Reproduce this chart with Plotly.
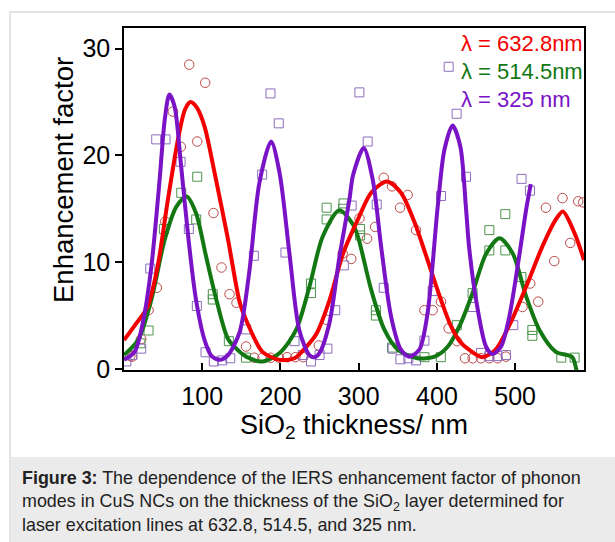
import plotly.graph_objects as go

# ---- fitted curves (SiO2 thickness in nm, enhancement factor) ----
red_fit_x = [0, 15, 30, 43, 56, 69, 78, 85, 93, 103, 116, 133, 148, 156, 177, 199, 218, 231, 246,
             263, 280, 299, 316, 336, 354, 371, 388, 405, 418, 429, 441, 458, 475, 492, 514, 535,
             552, 561, 576, 588]
red_fit_y = [2.7, 4.2, 5.8, 9.6, 15.8, 21.5, 24.3, 25.0, 24.5, 22.7, 18.3, 12.1, 6.2, 4.6, 1.6, 0.85,
             1.0, 1.9, 3.3, 6.5, 10.8, 14.0, 16.5, 17.55, 16.5, 13.8, 10.2, 6.5, 4.0, 2.6, 1.8, 1.1,
             1.8, 4.0, 7.7, 11.5, 14.0, 14.75, 12.7, 10.2]

green_fit_x = [0, 18, 35, 52, 67, 80, 92, 105, 118, 133, 148, 156, 177, 199, 220, 237, 254, 275,
               292, 299, 316, 333, 350, 375, 397, 414, 430, 445, 463, 480, 497, 514, 531, 552, 573,
               578, 581]
green_fit_y = [1.3, 2.7, 6.5, 12.1, 15.2, 16.15, 14.6, 10.5, 6.5, 2.8, 1.6, 1.15, 0.7, 1.5, 3.65, 7.7,
               12.4, 14.85, 13.6, 12.4, 7.4, 3.65, 1.8, 1.0, 1.15, 2.1, 4.2, 7.0, 10.8, 12.25, 10.8,
               6.8, 3.65, 1.6, 1.1, 0.0, -1.0]

purple_fit_x = [0, 13.5, 24, 35, 45.5, 52, 58, 64.6, 73, 82.5, 92, 103, 112, 122, 133, 148, 160,
                173, 188, 199, 211.5, 224, 237, 244, 250, 262.6, 275.4, 288, 293, 306.4, 318, 328.6,
                341.4, 354, 364.7, 377.5, 388, 401, 409.5, 420, 430, 437, 441, 450, 462.7, 471, 482,
                492.5, 505, 514, 520]
purple_fit_y = [0.85, 1.6, 4.3, 9.6, 17.7, 23.3, 25.7, 24.6, 19.0, 12.1, 6.5, 2.7, 1.2, 0.85, 1.3,
                3.5, 9.0, 17.4, 21.3, 18.3, 10.8, 3.65, 1.3, 1.1, 1.5, 4.3, 10.5, 15.8, 18.2, 20.7,
                17.7, 11.5, 4.9, 1.8, 1.15, 1.8, 5.2, 15.2, 20.5, 22.8, 20.8, 15.2, 11.5, 6.5, 2.1,
                1.4, 2.1, 4.9, 10.5, 14.9, 17.3]

# ---- measured points ----
red_pts_x = [8, 10.6, 22, 31.4, 42, 52.7, 62.5, 72.7, 83.4, 93.6, 103.8, 114.4, 124.6, 134.9, 143.8,
             156, 166.5, 177, 187.5, 198, 208.5, 219, 229, 249, 259, 279.5, 290.5, 301, 310.7, 321,
             332, 342.6, 352.9, 362.6, 373.3, 384, 394.5, 405.2, 415, 425.7, 435.9, 445.6, 456.3,
             466.9, 477.5, 488.2, 509.4, 519.2, 529.5, 539.3, 550, 560.5, 570.4, 580.6, 587]
red_pts_y = [1.2, 1.15, 2.8, 5.5, 7.6, 13.8, 24.1, 20.8, 28.5, 21.3, 26.8, 14.6, 9.5, 7.0, 6.2,
             2.1, 1.05, 1.05, 1.05, 1.05, 1.1, 1.1, 1.1, 2.2, 4.6, 10.8, 10.3, 14.1, 12.2, 13.3,
             17.9, 17.1, 15.1, 16.3, 13.0, 5.5, 5.5, 6.3, 3.8, 2.6, 1.0, 1.0, 1.0,
             1.0, 1.0, 1.15, 5.8, 8.0, 6.3, 15.1, 10.1, 16.0, 11.8, 15.7, 15.6]

green_pts_x = [21, 31.4, 51, 73.2, 92.3, 93.6, 113.5, 113.5, 134, 156, 239, 239, 259, 259, 280.5,
               280, 301.8, 301.8, 322, 322, 342.6, 384, 405, 425.5, 445.6, 467, 467, 487.4, 487.4,
               508, 522, 522, 559, 576]
green_pts_y = [2.4, 3.6, 13.1, 16.5, 14.0, 18.0, 7.0, 6.5, 2.6, 1.06, 8.0, 7.1, 15.1, 14.0, 15.5,
               15.0, 13.1, 12.5, 5.5, 5.0, 2.0, 1.1, 1.1, 4.1, 7.1, 13.0, 11.1, 14.5, 11.1,
               8.6, 3.65, 3.1, 1.06, 1.06]

purple_pts_x = [3, 10.6, 22, 33.6, 41.2, 53.1, 72.3, 82.9, 93.1, 104.2, 114.8, 125.5, 135.8, 156.2,
                166, 176.6, 187.2, 197.8, 206.4, 218, 228.5, 239, 250, 260, 270, 281, 291, 300.9,
                311.5, 323, 332, 343.4, 353.3, 363.5, 373.3, 384, 394.5, 405.2, 415, 425.2, 437.2,
                445.6, 456.3, 466.9, 477.5, 488.2, 497.6, 508.2, 518.9]
purple_pts_y = [0.7, 1.3, 1.9, 9.4, 21.5, 21.5, 19.4, 13.1, 5.9, 1.56, 0.7, 0.8, 1.0, 3.7,
                10.6, 18.2, 25.8, 23.0, 10.9, 2.6, 1.3, 0.7, 1.3, 1.9, 5.5, 9.7, 15.3, 25.9,
                21.3, 15.4, 7.6, 1.9, 0.9, 1.0, 0.8, 2.65, 7.3, 16.2, 28.3, 23.9, 18.0,
                5.8, 1.5, 1.2, 1.2, 1.3, 4.1, 17.8, 16.7]

series_labels = ["λ = 632.8nm", "λ = 514.5nm", "λ = 325 nm"]
x_ticks = [100, 200, 300, 400, 500]
y_ticks = [0, 10, 20, 30]

RED, GREEN, PURPLE = "#f20000", "#137813", "#7a12c6"
RED_PT, GREEN_PT, PURPLE_PT = "#bb4a4a", "#4e944e", "#8c6cbc"
FONT = "Liberation Sans, Arial, sans-serif"

W, H = 615, 542
L, R, T, B = 124, 584, 28, 370  # plot area in pixels


def px(xp):
    return (xp - L) / (R - L)


def py(yp):
    return (B - yp) / (B - T)


fig = go.Figure()

# scattered measurements (drawn first, under the fitted lines)
fig.add_trace(go.Scatter(x=red_pts_x, y=red_pts_y, mode="markers",
                         marker=dict(symbol="circle-open", size=9.5, color=RED_PT,
                                     line=dict(width=1, color=RED_PT))))
fig.add_trace(go.Scatter(x=green_pts_x, y=green_pts_y, mode="markers",
                         marker=dict(symbol="square-open", size=9, color=GREEN_PT,
                                     line=dict(width=1, color=GREEN_PT))))
fig.add_trace(go.Scatter(x=purple_pts_x, y=purple_pts_y, mode="markers",
                         marker=dict(symbol="square-open", size=9, color=PURPLE_PT,
                                     line=dict(width=1, color=PURPLE_PT))))

# fitted curves
for xs, ys, col in [(green_fit_x, green_fit_y, GREEN),
                    (red_fit_x, red_fit_y, RED),
                    (purple_fit_x, purple_fit_y, PURPLE)]:
    fig.add_trace(go.Scatter(x=xs, y=ys, mode="lines",
                             line=dict(color=col, width=4, shape="spline", smoothing=0.8)))

# panel frame and caption band
fig.add_shape(type="rect", xref="paper", yref="paper",
              x0=px(10), x1=px(640), y0=py(12), y1=py(600),
              line=dict(color="#dadada", width=1.5), fillcolor="white", layer="below")
fig.add_shape(type="rect", xref="paper", yref="paper",
              x0=px(10.75), x1=px(640), y0=py(457), y1=py(600),
              line=dict(width=0), fillcolor="#ebebeb", layer="below")

# colored series labels
for i, (lab, col) in enumerate(zip(series_labels, [RED, GREEN, PURPLE])):
    fig.add_annotation(text=lab, xref="paper", yref="paper", x=px(459), y=py(43 + 28 * i),
                       xanchor="left", yanchor="middle", showarrow=False,
                       font=dict(family=FONT, size=22, color=col))

# y-axis title
fig.add_annotation(text="Enhancement factor", xref="paper", yref="paper",
                   x=px(63), y=py(180), textangle=-90, xanchor="center", yanchor="middle",
                   showarrow=False, font=dict(family=FONT, size=27.5, color="black"))

caption = ("<b>Figure 3:</b> The dependence of the IERS enhancement factor of phonon<br>"
           "modes in CuS NCs on the thickness of the SiO<sub>2</sub> layer determined for<br>"
           "laser excitation lines at 632.8, 514.5, and 325 nm.")
fig.add_annotation(text=caption, xref="paper", yref="paper", x=px(20), y=py(466),
                   xanchor="left", yanchor="top", align="left", showarrow=False,
                   font=dict(family=FONT, size=17.9, color="#222222"))

axis_common = dict(showline=True, linecolor="black", linewidth=1.5, mirror=True,
                   showgrid=False, zeroline=False, tickcolor="black",
                   tickfont=dict(family=FONT, size=25, color="black"))

fig.update_xaxes(range=[0, 588], tickvals=x_ticks, ticks="inside", ticklen=7, tickwidth=1.5,
                 ticklabelstandoff=3,
                 title=dict(text="SiO<sub>2</sub> thickness/ nm", standoff=0,
                            font=dict(family=FONT, size=27, color="black")),
                 **axis_common)
fig.update_yaxes(range=[-0.1, 31.93], tickvals=y_ticks, ticks="outside", ticklen=7,
                 tickwidth=1.5, **axis_common)

fig.update_layout(width=W, height=H, showlegend=False,
                  margin=dict(l=L, r=W - R, t=T, b=H - B),
                  paper_bgcolor="white", plot_bgcolor="rgba(0,0,0,0)")

fig.write_html("out.html")
